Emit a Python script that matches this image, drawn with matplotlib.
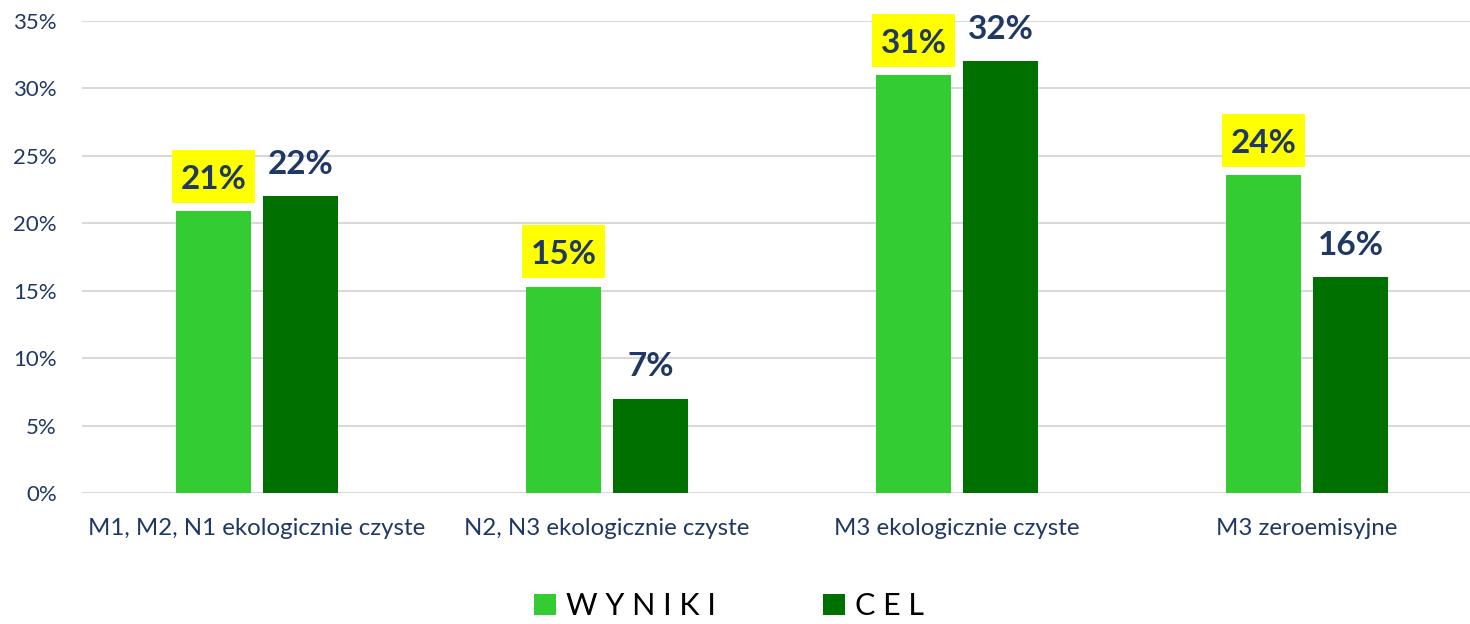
import numpy as np
import matplotlib.pyplot as plt
from matplotlib.path import Path
from matplotlib.ticker import PercentFormatter

plt.rcParams['font.family'] = ['Lato', 'DejaVu Sans']

# dane z wykresu
kategorie = ["M1, M2, N1 ekologicznie czyste", "N2, N3 ekologicznie czyste",
             "M3 ekologicznie czyste", "M3 zeroemisyjne"]
wyniki = [20.9, 15.3, 31.0, 23.6]
cel = [22.0, 7.0, 32.0, 16.0]
etykiety_wyniki = ["21%", "15%", "31%", "24%"]
etykiety_cel = ["22%", "7%", "32%", "16%"]

kolor_wyniki = "#33CC33"
kolor_cel = "#007000"
kolor_tekstu = "#203864"


# żółty prostokąt pod etykietą (inne marginesy w poziomie, u góry i u dołu)
def ramka(x0, y0, width, height, mutation_size):
    px = 0.26 * mutation_size
    py_gora = 0.45 * mutation_size
    py_dol = 0.27 * mutation_size
    x1, y1 = x0 + width + px, y0 + height + py_gora
    x0, y0 = x0 - px, y0 - py_dol
    return Path([(x0, y0), (x1, y0), (x1, y1), (x0, y1), (x0, y0)],
                closed=True)


fig = plt.figure(figsize=(14.7, 6.24), dpi=100)
ax = fig.add_axes([82 / 1470, 131 / 624, 1388 / 1470, 472 / 624])

x = np.arange(len(kategorie))
szer = 0.214
odst = 0.124

b1 = ax.bar(x - odst, wyniki, szer, color=kolor_wyniki, label="W Y N I K I", zorder=3)
b2 = ax.bar(x + odst, cel, szer, color=kolor_cel, label="C E L", zorder=3)

# etykiety wartości
for rect, txt in zip(b1, etykiety_wyniki):
    ax.annotate(txt, (rect.get_x() + rect.get_width() / 2, rect.get_height()),
                xytext=(0, 16), textcoords="offset points", ha="center", va="baseline",
                fontsize=24, fontweight="bold", color=kolor_tekstu, zorder=4,
                bbox=dict(boxstyle=ramka, fc="#FFFF00", ec="none"))
for rect, txt in zip(b2, etykiety_cel):
    ax.annotate(txt, (rect.get_x() + rect.get_width() / 2, rect.get_height()),
                xytext=(0, 16), textcoords="offset points", ha="center", va="baseline",
                fontsize=24, fontweight="bold", color=kolor_tekstu, zorder=4)

ax.set_ylim(0, 35)
ax.set_xlim(-0.5, -0.5 + 1388 / 350)
ax.set_yticks(np.arange(0, 36, 5))
ax.yaxis.set_major_formatter(PercentFormatter(decimals=0))
ax.set_xticks(x)
ax.set_xticklabels(kategorie)
ax.tick_params(axis="y", length=0, pad=18, labelsize=16, labelcolor=kolor_tekstu)
ax.tick_params(axis="x", length=0, pad=18, labelsize=17.3, labelcolor=kolor_tekstu)
ax.grid(axis="y", color="#D9D9D9", linewidth=1.5, zorder=0)
for s in ax.spines.values():
    s.set_visible(False)

fig.legend(handles=[b1, b2], loc="lower center", bbox_to_anchor=(0.496, -0.038), ncol=2,
           frameon=False, fontsize=22, handlelength=0.72, handleheight=0.72,
           handletextpad=0.34, columnspacing=3.5)

fig.savefig("out.png", dpi=100)
